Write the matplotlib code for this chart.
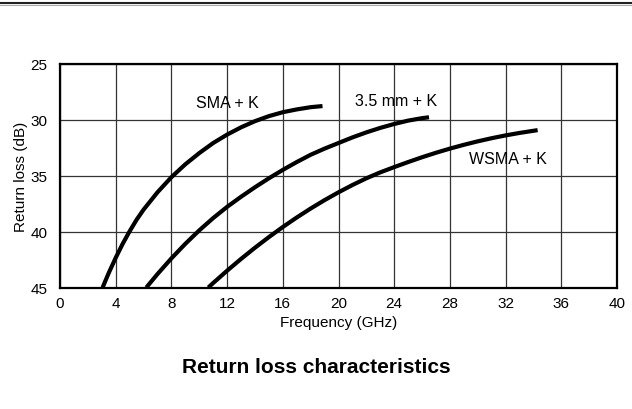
import matplotlib
matplotlib.use("Agg")
import matplotlib.pyplot as plt
from matplotlib.lines import Line2D

plt.rcParams['font.family'] = ['Liberation Sans', 'DejaVu Sans']

# Data
sma_freq = [3.06, 3.5, 4.0, 4.5, 5.0, 5.5, 6.0, 7.0, 8.0, 9.0, 10.0, 11.0, 12.0, 13.0, 14.0, 15.0, 16.0, 17.0, 18.0, 18.85]
sma_rl = [45.0, 43.7, 42.35, 41.1, 39.98, 38.95, 38.05, 36.5, 35.15, 34.0, 33.0, 32.1, 31.35, 30.7, 30.15, 29.7, 29.35, 29.1, 28.9, 28.8]

mm35_freq = [6.2, 7.0, 8.0, 9.0, 10.0, 11.0, 12.0, 13.0, 14.0, 15.0, 16.0, 17.0, 18.0, 19.0, 20.0, 21.0, 22.0, 23.0, 24.0, 25.0, 26.0, 26.5]
mm35_rl = [45.0, 43.8, 42.4, 41.1, 39.9, 38.8, 37.8, 36.9, 36.05, 35.25, 34.5, 33.8, 33.15, 32.6, 32.1, 31.6, 31.15, 30.75, 30.4, 30.1, 29.88, 29.8]

wsma_freq = [10.65, 11.0, 12.0, 13.0, 14.0, 15.0, 16.0, 17.0, 18.0, 19.0, 20.0, 21.0, 22.0, 23.0, 24.0, 25.0, 26.0, 27.0, 28.0, 29.0, 30.0, 31.0, 32.0, 33.0, 34.3]
wsma_rl = [45.0, 44.6, 43.5, 42.45, 41.45, 40.5, 39.6, 38.75, 37.95, 37.2, 36.5, 35.85, 35.25, 34.72, 34.25, 33.8, 33.37, 32.97, 32.6, 32.26, 31.95, 31.67, 31.42, 31.2, 30.95]

x_ticks = [0, 4, 8, 12, 16, 20, 24, 28, 32, 36, 40]
y_ticks = [25, 30, 35, 40, 45]

labels = ["SMA + K", "3.5 mm + K", "WSMA + K"]
label_pos = [(12.0, 28.5), (24.1, 28.3), (32.2, 33.5)]

fig = plt.figure(figsize=(6.32, 4.10), dpi=100)
ax = fig.add_axes([60/632, 1-288.5/410, (617-60)/632, (288.5-64.5)/410])

for fx, ry in [(sma_freq, sma_rl), (mm35_freq, mm35_rl), (wsma_freq, wsma_rl)]:
    ax.plot(fx, ry, color='black', lw=3.0, solid_capstyle='butt',
            solid_joinstyle='round', zorder=3)

for txt, (px, py) in zip(labels, label_pos):
    ax.text(px, py, txt, ha='center', va='center', fontsize=11.5, zorder=4)

ax.set_xlim(0, 40)
ax.set_ylim(45, 25)
ax.set_xticks(x_ticks)
ax.set_yticks(y_ticks)
ax.tick_params(axis='x', length=0, labelsize=11, pad=6)
ax.tick_params(axis='y', length=0, labelsize=11, pad=9)
ax.grid(True, color='#333333', lw=0.9)
ax.set_axisbelow(True)
for s in ax.spines.values():
    s.set_linewidth(1.6)
    s.set_color('black')

ax.set_xlabel("Frequency (GHz)", fontsize=11, labelpad=4)
ax.set_ylabel("Return loss (dB)", fontsize=11, labelpad=2)

fig.text(0.5, 1-368/410, "Return loss characteristics", ha='center', va='center',
         fontsize=15, fontweight='bold')

fig.add_artist(Line2D([0, 1], [1-3.5/410, 1-3.5/410], color='#222222', lw=1.5, transform=fig.transFigure))
fig.add_artist(Line2D([0, 1], [1-5.5/410, 1-5.5/410], color='#aaaaaa', lw=0.8, transform=fig.transFigure))

fig.savefig("out.png", dpi=100)
